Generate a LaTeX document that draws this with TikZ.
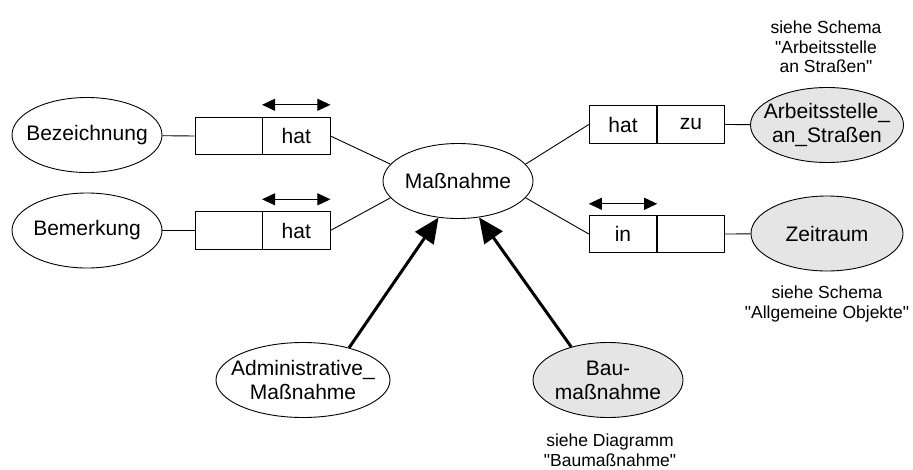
\documentclass[tikz,border=0pt]{standalone}
\usepackage{fontspec}
\setmainfont{Liberation Sans}[Ligatures=TeXOff]
\usetikzlibrary{shapes.geometric,arrows.meta}
\begin{document}
\begin{tikzpicture}[x=1pt,y=-1pt,
  every node/.style={font=\fontsize{21}{24}\selectfont},
  ent/.style={ellipse,draw,line width=0.9pt,inner sep=0pt,minimum width=150pt,minimum height=75pt},
  ext/.style={ent,fill=black!10},
  lab/.style={align=center,inner sep=0pt},
  cell/.style={rectangle,draw,line width=0.9pt,inner sep=0pt,minimum width=67.5pt,minimum height=37.5pt},
  conn/.style={line width=0.9pt},
  dir/.style={line width=0.9pt,{Triangle[length=13pt,width=12pt]}-{Triangle[length=13pt,width=12pt]}},
  isa/.style={line width=3pt,-{Triangle[length=25pt,width=22pt]}},
  note/.style={align=center,inner sep=0pt,font=\fontsize{17.5}{19.5}\selectfont}]
\useasboundingbox (0,0) rectangle (913,469);

% central entity
\node[ent,label={[lab]center:Maßnahme}] (mass) at (458,181) {};

% left side
\node[ent,label={[lab]center:Bezeichnung}] (bez) at (87,135) {};
\node[ent,label={[lab]center:Bemerkung}] (bem) at (87,230.5) {};
\node[cell] (b1l) at (228.75,136) {};
\node[cell] (b1r) at (296.25,136) {hat};
\node[cell] (b2l) at (228.75,230.5) {};
\node[cell] (b2r) at (296.25,230.5) {hat};

% right side
\node[cell] (b3l) at (623,124.5) {hat};
\node[cell] (b3r) at (691,124.5) {zu};
\node[cell] (b4l) at (623,234) {in};
\node[cell] (b4r) at (691,234) {};
\node[ext,minimum width=153pt,label={[lab]center:Arbeitsstelle\_\\an\_Straßen}] (arb) at (827,125) {};
\node[ext,minimum width=152pt,label={[lab]center:Zeitraum}] (zeit) at (827,233.5) {};

% bottom
\node[ent,minimum width=174pt,label={[lab]center:Administrative\_\\Maßnahme}] (adm) at (303,380) {};
\node[ext,label={[lab]center:Bau-\\maßnahme}] (bau) at (608,380) {};

% notes
\node[note] (n1) at (826,47) {siehe Schema\\"Arbeitsstelle\\an Straßen"};
\node[note] (n2) at (827,304) {siehe Schema\\"Allgemeine Objekte"};
\node[note] (n3) at (610,450) {siehe Diagramm\\"Baumaßnahme"};

% connectors
\draw[conn] (bez) -- (b1l.west);
\draw[conn] (bem) -- (b2l.west);
\draw[conn] (b1r.east) -- (mass.166);
\draw[conn] (b2r.east) -- (mass.194);
\draw[conn] (b3l.west) -- (mass.14);
\draw[conn] (b4l.west) -- (mass.346);
\draw[conn] (b3r.east) -- (arb);
\draw[conn] (b4r.east) -- (zeit);

% reading direction arrows
\draw[dir] ([yshift=12pt]b1r.north west) -- ([yshift=12pt]b1r.north east);
\draw[dir] ([yshift=12pt]b2r.north west) -- ([yshift=12pt]b2r.north east);
\draw[dir] ([yshift=11pt]b4l.north west) -- ([yshift=11pt]b4l.north east);

% generalisation arrows
\draw[isa] (adm.35) -- (mass.242);
\draw[isa] (bau.138) -- (mass.300);
\end{tikzpicture}
\end{document}
